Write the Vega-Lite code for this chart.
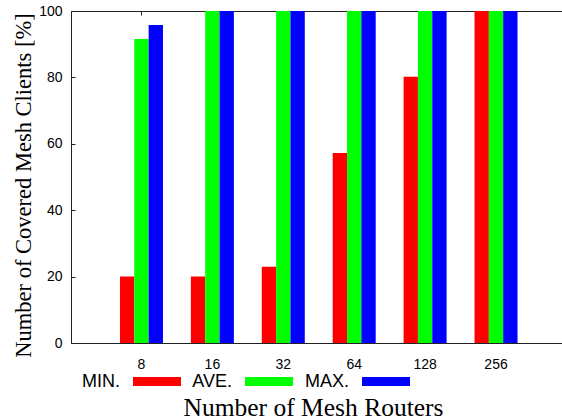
{
  "$schema": "https://vega.github.io/schema/vega-lite/v6.json",
  "width": 491,
  "height": 332,
  "autosize": {"type": "none"},
  "padding": {"left": 71, "top": 11, "right": 0, "bottom": 76},
  "background": "white",
  "config": {
    "view": {"stroke": null},
    "axis": {
      "grid": false,
      "domainColor": "#222",
      "tickColor": "#222",
      "labelFont": "Liberation Sans",
      "labelFontSize": 14,
      "labelColor": "#000",
      "titleFont": "Liberation Serif",
      "titleFontWeight": "normal",
      "titleColor": "#000"
    }
  },
  "data": {
    "values": [
      {"routers": "8", "stat": "MIN.", "value": 20},
      {"routers": "8", "stat": "AVE.", "value": 91.6},
      {"routers": "8", "stat": "MAX.", "value": 95.8},
      {"routers": "16", "stat": "MIN.", "value": 20},
      {"routers": "16", "stat": "AVE.", "value": 100},
      {"routers": "16", "stat": "MAX.", "value": 100},
      {"routers": "32", "stat": "MIN.", "value": 23},
      {"routers": "32", "stat": "AVE.", "value": 100},
      {"routers": "32", "stat": "MAX.", "value": 100},
      {"routers": "64", "stat": "MIN.", "value": 57.2},
      {"routers": "64", "stat": "AVE.", "value": 100},
      {"routers": "64", "stat": "MAX.", "value": 100},
      {"routers": "128", "stat": "MIN.", "value": 80.2},
      {"routers": "128", "stat": "AVE.", "value": 100},
      {"routers": "128", "stat": "MAX.", "value": 100},
      {"routers": "256", "stat": "MIN.", "value": 100},
      {"routers": "256", "stat": "AVE.", "value": 100},
      {"routers": "256", "stat": "MAX.", "value": 100}
    ]
  },
  "layer": [
    {
      "mark": {"type": "bar"},
      "encoding": {
        "x": {
          "field": "routers",
          "type": "nominal",
          "sort": ["8", "16", "32", "64", "128", "256"],
          "scale": {"paddingInner": 0.3935, "paddingOuter": 0.659, "align": 0.524},
          "axis": {
            "title": "Number of Mesh Routers",
            "labelAngle": 0,
            "ticks": false,
            "labelPadding": 14,
            "titleFontSize": 25.5,
            "titleX": 242,
            "titleY": 72,
            "titleBaseline": "alphabetic"
          }
        },
        "xOffset": {
          "field": "stat",
          "type": "nominal",
          "sort": ["MIN.", "AVE.", "MAX."],
          "scale": {"paddingInner": 0, "paddingOuter": 0}
        },
        "y": {
          "field": "value",
          "type": "quantitative",
          "scale": {"domain": [0, 100], "nice": false},
          "axis": {
            "title": "Number of Covered Mesh Clients [%]",
            "values": [0, 20, 40, 60, 80, 100],
            "tickSize": -4,
            "labelPadding": 13,
            "titleFontSize": 22.5,
            "titlePadding": 3,
            "titleY": 174
          }
        },
        "color": {
          "field": "stat",
          "type": "nominal",
          "sort": ["MIN.", "AVE.", "MAX."],
          "scale": {"domain": ["MIN.", "AVE.", "MAX."], "range": ["#ff0000", "#00ff00", "#0000ff"]},
          "legend": {
            "orient": "none",
            "legendX": 62,
            "legendY": 346.5,
            "direction": "horizontal",
            "columns": 3,
            "columnPadding": 11,
            "title": null,
            "symbolType": "M-1,-0.1875H1V0.1875H-1Z",
            "symbolSize": 2304,
            "symbolStrokeWidth": 0,
            "symbolOpacity": 1,
            "labelFont": "Liberation Sans",
            "labelFontSize": 18,
            "labelColor": "#000",
            "labelAlign": "right",
            "labelOffset": -61,
            "labelBaseline": "middle"
          }
        }
      }
    },
    {
      "mark": {"type": "point", "opacity": 0},
      "encoding": {
        "x": {
          "field": "routers",
          "type": "nominal",
          "sort": ["8", "16", "32", "64", "128", "256"],
          "axis": {"orient": "top", "labels": false, "title": null, "tickSize": -4}
        },
        "y": {"field": "value", "type": "quantitative"}
      }
    }
  ],
  "resolve": {"axis": {"x": "independent"}}
}
